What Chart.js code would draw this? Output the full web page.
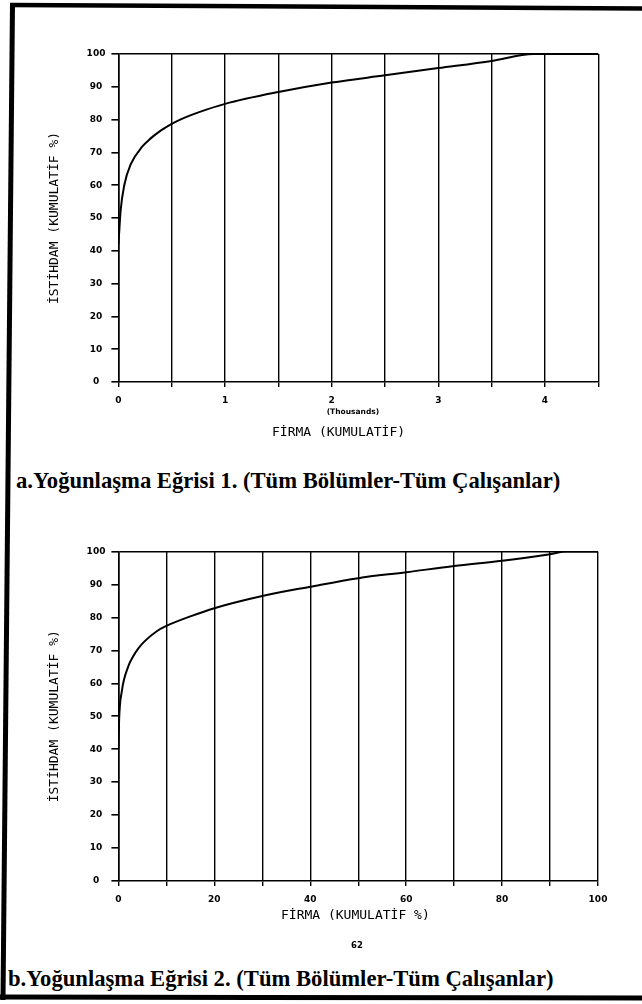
<!DOCTYPE html>
<html>
<head>
<meta charset="utf-8">
<script src="https://cdn.jsdelivr.net/npm/chart.js@4.4.1/dist/chart.umd.min.js"></script>
<style>
  html, body { margin: 0; padding: 0; background: #fff; }
  #page { position: relative; width: 642px; height: 1004px; overflow: hidden; background: #fff; }
  #frame { position: absolute; left: 0; top: 0; }
  .box { position: absolute; left: 0; }
  .txt { position: absolute; white-space: nowrap; color: #000; line-height: 1; }
  .axis { font-family: "DejaVu Sans Mono", monospace; font-size: 13px; line-height: 13px; }
  .cap { font-family: "Liberation Serif", serif; font-weight: bold; font-size: 24px; line-height: 24px;
         transform: scaleX(0.943); transform-origin: left top; }
  .pg { font-family: "DejaVu Sans", sans-serif; font-weight: bold; font-size: 8.5px; }
</style>
</head>
<body>
<div id="page">
  <svg id="frame" width="642" height="1004">
    <line x1="10" y1="5" x2="642" y2="8.5" stroke="#000" stroke-width="4.5"/>
    <line x1="12.5" y1="3" x2="3" y2="1000" stroke="#000" stroke-width="5"/>
    <line x1="0" y1="997" x2="642" y2="998" stroke="#000" stroke-width="5"/>
  </svg>

  <div class="box" style="top:0;"><canvas id="chartA" width="642" height="450"></canvas></div>
  <div class="txt axis" style="left:272px; top:424.5px;">FİRMA (KUMULATİF)</div>
  <div class="txt cap" style="left:16px; top:467.5px;">a.Yoğunlaşma Eğrisi 1. (Tüm Bölümler-Tüm Çalışanlar)</div>

  <div class="box" style="top:460px;"><canvas id="chartB" width="642" height="470"></canvas></div>
  <div class="txt axis" style="left:281px; top:907.5px;">FİRMA (KUMULATİF %)</div>
  <div class="txt pg" style="left:351px; top:941px;">62</div>
  <div class="txt cap" style="left:8px; top:965.5px;">b.Yoğunlaşma Eğrisi 2. (Tüm Bölümler-Tüm Çalışanlar)</div>
</div>

<script>
// a: firms in thousands (cumulative) vs employment (cumulative %)
const firmsA = [0, 0.01, 0.02, 0.055, 0.116, 0.225, 0.3, 0.4, 0.5, 0.6, 0.75, 1, 1.5, 2, 2.5, 3, 3.5, 3.89, 4.5];
const employmentA = [42, 47, 52, 60, 66.4, 71.8, 74.2, 76.7, 78.7, 80.3, 82.2, 84.8, 88.4, 91.3, 93.5, 95.7, 97.9, 100, 100];
const xLabelsA = [0, 1, 2, 3, 4];

// b: firms (cumulative %) vs employment (cumulative %)
const firmsB = [0, 0.15, 0.7, 2.1, 3, 4.2, 5.5, 8, 10, 15, 20, 30, 40, 50, 60, 70, 80, 90, 93.5, 100];
const employmentB = [40, 49, 57.5, 65.3, 68, 70.7, 72.8, 75.8, 77.4, 80.3, 82.8, 86.5, 89.3, 91.9, 93.7, 95.6, 97.2, 99.2, 100, 100];
const xLabelsB = [0, 20, 40, 60, 80, 100];

const yTitle = 'İSTİHDAM (KUMULATİF %)';

const tickFont = { family: 'DejaVu Sans', size: 9, weight: 'bold' };

const thousandsNote = {
  id: 'thousandsNote',
  afterDraw(chart) {
    if (!chart.options.plugins.thousandsNote.show) return;
    const xs = chart.scales.x;
    const ctx = chart.ctx;
    ctx.save();
    ctx.fillStyle = '#000';
    ctx.font = 'bold 7.5px "DejaVu Sans"';
    ctx.textAlign = 'left';
    ctx.textBaseline = 'middle';
    ctx.fillText('(Thousands)', xs.getPixelForValue(2) - 5, xs.top + 30);
    ctx.restore();
  }
};

function makeChart(id, xs, ys, xMax, step, labels, pad, xHeight, showNote) {
  const pts = xs.map((x, i) => ({ x: x, y: ys[i] }));
  return new Chart(document.getElementById(id), {
    type: 'line',
    data: {
      datasets: [{
        data: pts,
        borderColor: '#000',
        borderWidth: 2,
        pointRadius: 0,
        fill: false,
        cubicInterpolationMode: 'monotone'
      }]
    },
    plugins: [thousandsNote],
    options: {
      responsive: false,
      animation: false,
      devicePixelRatio: 1,
      layout: { padding: pad },
      plugins: {
        legend: { display: false },
        tooltip: { enabled: false },
        thousandsNote: { show: showNote }
      },
      scales: {
        x: {
          type: 'linear',
          min: 0,
          max: xMax,
          afterFit: s => { s.height = xHeight; },
          ticks: {
            stepSize: step,
            color: '#000',
            font: tickFont,
            padding: 8,
            maxRotation: 0,
            autoSkip: false,
            callback: v => labels.includes(v) ? String(v) : ''
          },
          grid: { color: '#000', lineWidth: 1.4, tickLength: 5, tickColor: '#000' },
          border: { display: true, color: '#000', width: 1.6 }
        },
        y: {
          min: 0,
          max: 100,
          afterFit: s => { s.width = 118.4; },
          ticks: {
            stepSize: 10,
            color: '#000',
            font: tickFont,
            padding: 6,
            crossAlign: 'center'
          },
          grid: {
            color: c => (c.tick && c.tick.value === 100) ? '#000' : 'rgba(0,0,0,0)',
            lineWidth: 1.6,
            tickLength: 7,
            tickColor: '#000'
          },
          border: { display: true, color: '#000', width: 1.6 },
          title: {
            display: true,
            text: yTitle,
            color: '#000',
            font: { family: 'DejaVu Sans Mono', size: 13 },
            padding: { top: 47, bottom: 0 }
          }
        }
      }
    }
  });
}

makeChart('chartA', firmsA, employmentA, 4.5, 0.5, xLabelsA,
  { left: 0, right: 43.7, top: 54, bottom: 0 }, 68, true);
makeChart('chartB', firmsB, employmentB, 100, 10, xLabelsB,
  { left: 0, right: 44, top: 91.5, bottom: 0 }, 49, false);
</script>
</body>
</html>
